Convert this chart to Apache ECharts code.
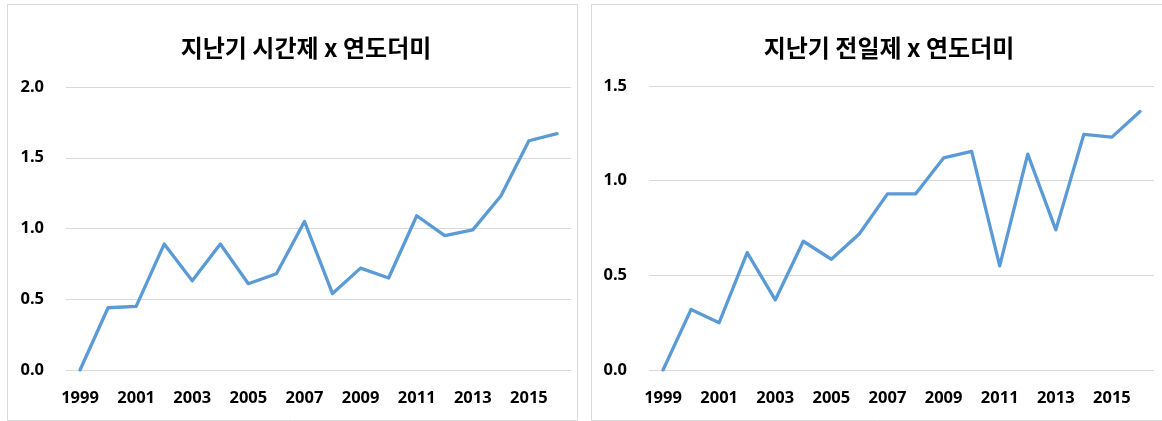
<!DOCTYPE html>
<html>
<head>
<meta charset="utf-8">
<script src="https://cdn.jsdelivr.net/npm/echarts@6/dist/echarts.min.js"></script>
<style>
html,body{margin:0;padding:0;background:#fff;}
#c{width:1162px;height:421px;}
</style>
</head>
<body>
<div id="c"></div>
<script>
var years = ['1999','2000','2001','2002','2003','2004','2005','2006','2007','2008','2009','2010','2011','2012','2013','2014','2015','2016'];
var partTime = [0, 0.44, 0.45, 0.89, 0.63, 0.89, 0.61, 0.68, 1.05, 0.54, 0.72, 0.65, 1.09, 0.95, 0.99, 1.23, 1.62, 1.67];
var fullTime = [0, 0.32, 0.25, 0.62, 0.37, 0.68, 0.585, 0.72, 0.93, 0.93, 1.12, 1.155, 0.55, 1.14, 0.74, 1.245, 1.23, 1.365];
var leftTitle = '지난기 시간제 x 연도더미';
var rightTitle = '지난기 전일제 x 연도더미';

var chart = echarts.init(document.getElementById('c'), null, {renderer: 'canvas'});
var labelFont = {color: '#000', fontWeight: 'bold', fontSize: 16.5, fontFamily: '"Noto Sans", "Open Sans", sans-serif'};
function xAxis(i) {
  return {
    type: 'category', gridIndex: i, data: years, boundaryGap: true,
    axisLine: {show: false}, axisTick: {show: false},
    axisLabel: Object.assign({interval: 1, margin: 20}, labelFont)
  };
}
function yAxis(i, max) {
  return {
    type: 'value', gridIndex: i, min: 0, max: max, interval: 0.5,
    axisLine: {show: false}, axisTick: {show: false},
    axisLabel: Object.assign({margin: 22, formatter: function (v) { return v.toFixed(1); }}, labelFont),
    splitLine: {show: true, lineStyle: {color: '#d9d9d9', width: 1}}
  };
}
var titleStyle = {color: '#000', fontWeight: 'bold', fontSize: 24, fontFamily: '"Noto Sans CJK KR", sans-serif'};
chart.setOption({
  animation: false,
  title: [
    {text: leftTitle, left: 301, top: 31, textAlign: 'center', textStyle: titleStyle},
    {text: rightTitle, left: 884, top: 31, textAlign: 'center', textStyle: titleStyle}
  ],
  graphic: [
    {type: 'rect', shape: {x: 7.5, y: 4.5, width: 570, height: 416}, style: {fill: 'none', stroke: '#d9d9d9', lineWidth: 1}, silent: true},
    {type: 'rect', shape: {x: 591.5, y: 4.5, width: 600, height: 416}, style: {fill: 'none', stroke: '#d9d9d9', lineWidth: 1}, silent: true}
  ],
  grid: [
    {left: 66, top: 87, width: 505, height: 283, containLabel: false},
    {left: 649, top: 86, width: 505, height: 284, containLabel: false}
  ],
  xAxis: [xAxis(0), xAxis(1)],
  yAxis: [yAxis(0, 2.0), yAxis(1, 1.5)],
  series: [
    {type: 'line', xAxisIndex: 0, yAxisIndex: 0, data: partTime, showSymbol: false,
     lineStyle: {color: '#5B9BD5', width: 3.3, join: 'round', cap: 'round'}, itemStyle: {color: '#5B9BD5'}},
    {type: 'line', xAxisIndex: 1, yAxisIndex: 1, data: fullTime, showSymbol: false,
     lineStyle: {color: '#5B9BD5', width: 3.3, join: 'round', cap: 'round'}, itemStyle: {color: '#5B9BD5'}}
  ]
});
</script>
</body>
</html>
